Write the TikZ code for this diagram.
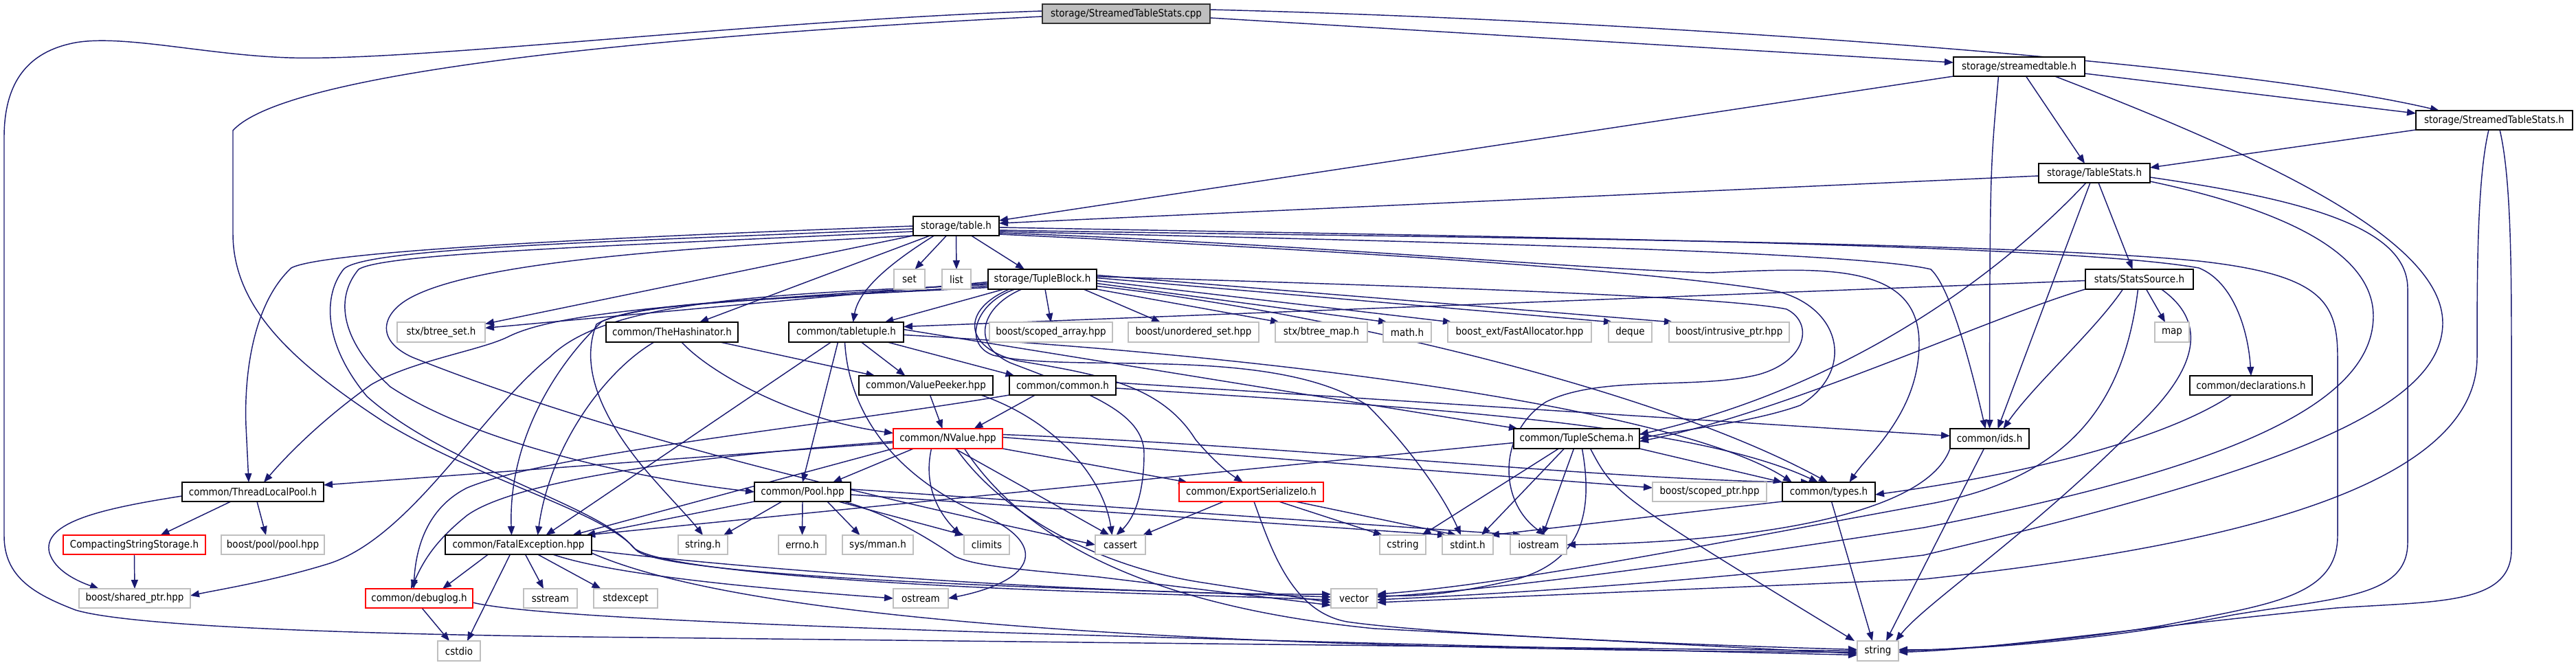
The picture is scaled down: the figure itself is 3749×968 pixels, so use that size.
\documentclass[tikz,border=0pt]{standalone}
\usepackage{fontspec}
\setmainfont{DejaVu Sans}[FakeStretch=0.9]
\usetikzlibrary{arrows.meta,backgrounds}
\definecolor{edgeblue}{RGB}{25,25,112}
\definecolor{extgray}{RGB}{191,191,191}
\definecolor{rootgray}{RGB}{191,191,191}
\newcommand\gn[7]{\node[#1,minimum width={(#4-#3)*0.5pt},minimum height={(#6-#5)*0.5pt}] (#2) at ({(#3+#4)/2},{(#5+#6)/2}) {#7};}
\begin{document}
\begin{tikzpicture}[x=0.5pt,y=-0.5pt,
  gnbase/.style={draw,rectangle,inner sep=0pt,outer sep=0pt,line width=0.8pt,fill=white,font=\fontsize{7.5}{9}\selectfont},
  gndoc/.style={gnbase,draw=black},
  gnext/.style={gnbase,draw=extgray},
  gntrunc/.style={gnbase,draw=red},
  gnroot/.style={gnbase,draw=black!80,fill=rootgray},
  edg/.style={draw=edgeblue,line width=0.72pt,-{Triangle[length=6.5pt,width=5pt]}}]
\useasboundingbox (0,0) rectangle (3749,968);
\gn{gnroot}{cpp}{1517}{1761}{6}{34}{storage/StreamedTableStats.cpp}
\gn{gndoc}{stab}{2843}{3034}{83}{111}{storage/streamedtable.h}
\gn{gndoc}{sts}{3516}{3744}{161}{189}{storage/StreamedTableStats.h}
\gn{gndoc}{ts}{2967}{3129}{238}{266}{storage/TableStats.h}
\gn{gndoc}{table}{1329}{1454}{315}{343}{storage/table.h}
\gn{gndoc}{ss}{3035}{3192}{392}{421}{stats/StatsSource.h}
\gn{gnext}{set}{1301}{1346}{392}{421}{set}
\gn{gnext}{list}{1371}{1413}{392}{421}{list}
\gn{gndoc}{tb}{1438}{1596}{392}{421}{storage/TupleBlock.h}
\gn{gnext}{bset}{578}{706}{469}{498}{stx/btree\_set.h}
\gn{gndoc}{hash}{882}{1074}{469}{498}{common/TheHashinator.h}
\gn{gndoc}{tt}{1148}{1315}{469}{498}{common/tabletuple.h}
\gn{gnext}{sca}{1440}{1619}{469}{498}{boost/scoped\_array.hpp}
\gn{gnext}{uset}{1642}{1832}{469}{498}{boost/unordered\_set.hpp}
\gn{gnext}{bmap}{1856}{1990}{469}{498}{stx/btree\_map.h}
\gn{gnext}{mathh}{2013}{2083}{469}{498}{math.h}
\gn{gnext}{fa}{2107}{2316}{469}{498}{boost\_ext/FastAllocator.hpp}
\gn{gnext}{deque}{2341}{2404}{469}{498}{deque}
\gn{gnext}{iptr}{2429}{2604}{469}{498}{boost/intrusive\_ptr.hpp}
\gn{gnext}{mapn}{3136}{3186}{469}{498}{map}
\gn{gndoc}{vp}{1250}{1445}{547}{575}{common/ValuePeeker.hpp}
\gn{gndoc}{comm}{1469}{1624}{547}{575}{common/common.h}
\gn{gndoc}{decl}{3187}{3365}{547}{575}{common/declarations.h}
\gn{gntrunc}{nv}{1300}{1459}{624}{653}{common/NValue.hpp}
\gn{gndoc}{tsch}{2203}{2386}{624}{653}{common/TupleSchema.h}
\gn{gndoc}{ids}{2838}{2953}{624}{653}{common/ids.h}
\gn{gndoc}{tlp}{265}{471}{702}{730}{common/ThreadLocalPool.h}
\gn{gndoc}{pool}{1098}{1238}{702}{730}{common/Pool.hpp}
\gn{gntrunc}{esio}{1716}{1926}{702}{730}{common/ExportSerializeIo.h}
\gn{gnext}{sptr}{2405}{2571}{702}{730}{boost/scoped\_ptr.hpp}
\gn{gndoc}{types}{2594}{2729}{702}{730}{common/types.h}
\gn{gntrunc}{css}{92}{299}{779}{807}{CompactingStringStorage.h}
\gn{gnext}{bpool}{322}{472}{779}{807}{boost/pool/pool.hpp}
\gn{gndoc}{fe}{648}{861}{779}{807}{common/FatalException.hpp}
\gn{gnext}{strh}{987}{1059}{779}{807}{string.h}
\gn{gnext}{errno}{1133}{1202}{779}{807}{errno.h}
\gn{gnext}{mman}{1226}{1329}{779}{807}{sys/mman.h}
\gn{gnext}{climits}{1403}{1469}{779}{807}{climits}
\gn{gnext}{cassert}{1594}{1667}{779}{807}{cassert}
\gn{gnext}{cstring}{2008}{2075}{779}{807}{cstring}
\gn{gnext}{stdint}{2099}{2173}{779}{807}{stdint.h}
\gn{gnext}{iostream}{2198}{2280}{779}{807}{iostream}
\gn{gnext}{shptr}{115}{277}{857}{885}{boost/shared\_ptr.hpp}
\gn{gntrunc}{dbg}{532}{688}{857}{885}{common/debuglog.h}
\gn{gnext}{sstream}{762}{840}{857}{885}{sstream}
\gn{gnext}{stdexcept}{864}{957}{857}{885}{stdexcept}
\gn{gnext}{ostream}{1300}{1380}{857}{885}{ostream}
\gn{gnext}{vector}{1937}{2004}{857}{885}{vector}
\gn{gnext}{cstdio}{637}{699}{933}{962}{cstdio}
\gn{gnext}{string}{2703}{2763}{933}{962}{string}
\begin{pgfonlayer}{background}
% cpp
\draw[edg] ([yshift=-3pt]cpp.east) -- ([yshift=3pt]stab.west);
\draw[edg] ([yshift=3pt]cpp.east) .. controls (2400,30) and (3250,90) .. ([xshift=-40pt]sts.north);
\draw[edg] ([yshift=2pt]cpp.west) .. controls (1100,30) and (600,90) .. (420,84) .. controls (300,80) and (180,50) .. (110,62) .. controls (40,75) and (6,120) .. (6,200) -- (6,780) .. controls (6,840) and (50,865) .. (110,888) .. controls (200,915) and (600,925) .. (940,928) -- (string.west);
\draw[edg] ([yshift=-2pt]cpp.west) .. controls (1000,50) and (420,100) .. (339,190) -- (339,340) .. controls (339,450) and (430,530) .. (560,615) .. controls (700,700) and (880,745) .. (925,800) .. controls (950,830) and (1300,848) .. (1600,858) -- ([yshift=1pt]vector.west);
% streamedtable.h
\draw[edg] (stab.south west) -- ([yshift=-3pt]table.north east);
\draw[edg] ([yshift=-5pt]stab.east) -- ([yshift=5pt]sts.west);
\draw[edg] ([xshift=5pt]stab.south) -- ([xshift=-7pt]ts.north);
\draw[edg] ([xshift=-15pt]stab.south) .. controls (2896,250) .. (ids.north);
\draw[edg] ([xshift=26pt]stab.south) .. controls (3300,230) and (3555,350) .. (3555,470) .. controls (3555,600) and (3300,690) .. (2800,808) .. controls (2450,850) and (2150,866) .. ([yshift=-1pt]vector.east);
% StreamedTableStats.h
\draw[edg] (sts.south west) -- ([yshift=-3pt]ts.north east);
\draw[edg] ([xshift=-4pt]sts.south) .. controls (3605,260) and (3605,400) .. (3605,520) .. controls (3605,720) and (3200,800) .. (2800,843) -- ([yshift=-3pt]vector.east);
\draw[edg] ([xshift=4pt]sts.south) .. controls (3655,260) and (3655,400) .. (3655,520) -- (3655,800) .. controls (3655,880) and (3550,875) .. (3400,885) .. controls (3100,915) and (2900,945) .. ([yshift=-1pt]string.east);
% TableStats.h
\draw[edg] ([yshift=-2pt]ts.west) -- ([yshift=2pt]table.east);
\draw[edg] ([xshift=3pt]ts.south) -- ([xshift=-5pt]ss.north);
\draw[edg] ([xshift=-6pt]ts.south) .. controls (2920,390) and (2700,560) .. ([yshift=3pt]tsch.east);
\draw[edg] ([xshift=-3pt]ts.south) -- ([xshift=6pt]ids.north);
\draw[edg] ([yshift=1pt]ts.south east) .. controls (3300,300) and (3454,360) .. (3454,460) .. controls (3454,600) and (3200,690) .. (2800,768) .. controls (2400,830) and (2150,860) .. ([yshift=1pt]vector.east);
\draw[edg] ([yshift=-3pt]ts.east) .. controls (3350,290) and (3504,330) .. (3504,420) -- (3504,790) .. controls (3504,870) and (3400,870) .. (3250,895) .. controls (3050,935) and (2850,947) .. ([yshift=1pt]string.east);
% StatsSource.h
\draw[edg] ([xshift=5pt]ss.south) -- ([xshift=-5pt]mapn.north);
\draw[edg] ([xshift=-12pt]ss.south) .. controls (3050,480) and (2960,560) .. ([xshift=10pt]ids.north);
\draw[edg] ([xshift=-1pt]ss.south) .. controls (3090,600) and (3000,700) .. (2800,735) .. controls (2500,790) and (2200,850) .. ([yshift=3pt]vector.east);
\draw[edg] ([xshift=16pt]ss.south) .. controls (3215,470) and (3200,540) .. (3100,630) .. controls (2950,780) and (2800,880) .. ([xshift=-2pt]string.north east);
\draw[edg] ([yshift=-1pt]ss.west) -- ([yshift=4pt]tt.east);
\draw[edg] (ss.south west) .. controls (2900,460) and (2600,600) .. ([yshift=-2pt]tsch.east);
% table.h
\draw[edg] ([xshift=-7pt]table.south) -- ([xshift=4pt]set.north);
\draw[edg] (table.south) -- (list.north);
\draw[edg] ([xshift=11pt]table.south) -- ([xshift=-13pt]tb.north);
\draw[edg] ([xshift=-19pt]table.south) -- ([xshift=20pt]hash.north);
\draw[edg] ([xshift=-16pt]table.south) .. controls (1300,380) and (1250,420) .. ([xshift=5pt]tt.north);
\draw[edg] (table.south west) -- ([yshift=6pt]bset.east);
\draw[edg] (table.west) .. controls (900,345) and (470,365) .. (424,390) .. controls (370,440) and (355,540) .. (358,620) -- ([xshift=-3pt]tlp.north);
\draw[edg] ([yshift=-2pt]table.west) .. controls (900,352) and (530,360) .. (500,392) .. controls (470,430) and (470,500) .. (534,577) .. controls (650,680) and (870,735) .. (920,795) .. controls (945,830) and (1300,852) .. (1600,862) -- ([yshift=-1pt]vector.west);
\draw[edg] ([yshift=-4pt]table.west) .. controls (900,358) and (560,368) .. (522,392) .. controls (490,430) and (490,490) .. (568,563) .. controls (700,650) and (950,700) .. (pool.west);
\draw[edg] (table.south west) .. controls (1000,360) and (700,380) .. (600,432) .. controls (555,455) and (545,495) .. (600,520) .. controls (900,640) and (1300,730) .. (cassert.west);
\draw[edg] ([yshift=-1pt]table.east) .. controls (2200,345) and (3000,355) .. (3200,390) .. controls (3250,410) and (3272,480) .. (decl.north);
\draw[edg] ([yshift=-3pt]table.east) .. controls (2000,345) and (2900,350) .. (3200,380) .. controls (3380,400) and (3402,440) .. (3402,520) -- (3402,780) .. controls (3402,870) and (3300,880) .. (3150,910) .. controls (3000,935) and (2850,945) .. (string.east);
\draw[edg] ([yshift=-4pt]table.east) .. controls (2000,350) and (2700,365) .. (2810,392) .. controls (2840,420) and (2870,540) .. ([xshift=-3pt]ids.north);
\draw[edg] ([yshift=-5pt]table.east) .. controls (1900,355) and (2300,392) .. (2490,397) .. controls (2650,390) and (2793,380) .. (2793,500) .. controls (2793,600) and (2720,660) .. ([xshift=15pt]types.north);
\draw[edg] ([yshift=-6pt]table.east) .. controls (1900,362) and (2400,392) .. (2590,425) .. controls (2680,450) and (2700,540) .. (2620,590) .. controls (2550,615) and (2450,625) .. (tsch.east);
% TupleBlock.h
\draw[edg] ([xshift=-28pt]tb.south) -- ([xshift=28pt]tt.north);
\draw[edg] ([xshift=2pt]tb.south) -- (sca.north);
\draw[edg] ([xshift=30pt]tb.south) -- ([xshift=-24pt]uset.north);
\draw[edg] (tb.south east) -- ([xshift=3pt]bmap.north west);
\draw[edg] ([yshift=-3pt]tb.east) -- ([xshift=3pt]mathh.north west);
\draw[edg] ([yshift=-1pt]tb.east) -- ([xshift=3pt]fa.north west);
\draw[edg] ([yshift=1pt]tb.east) -- ([xshift=3pt]deque.north west);
\draw[edg] ([yshift=3pt]tb.east) -- ([xshift=3pt]iptr.north west);
\draw[edg] ([yshift=-2pt]tb.west) -- ([yshift=3pt]bset.east);
\draw[edg] ([yshift=-3pt]tb.west) .. controls (1050,440) and (820,450) .. (740,490) .. controls (700,510) and (600,525) .. (540,560) .. controls (470,610) and (420,660) .. ([xshift=8pt]tlp.north);
\draw[edg] ([yshift=-4pt]tb.west) .. controls (1100,428) and (880,440) .. (800,520) .. controls (700,600) and (600,780) .. (480,820) .. controls (400,845) and (320,858) .. ([yshift=2pt]shptr.east);
\draw[edg] ([yshift=-5pt]tb.west) .. controls (1100,438) and (940,440) .. (876,468) .. controls (800,540) and (740,650) .. ([xshift=-5pt]fe.north);
\draw[edg] ([yshift=-6pt]tb.west) .. controls (1100,436) and (920,440) .. (868,472) .. controls (845,530) and (870,600) .. (936,680) .. controls (970,720) and (1000,750) .. (strh.north);
\draw[edg] ([xshift=-20pt]tb.south) .. controls (1420,440) and (1400,500) .. (1445,517) .. controls (1560,545) and (1850,500) .. (1990,590) .. controls (2050,650) and (2100,720) .. ([xshift=-5pt]stdint.north);
\draw[edg] ([xshift=-15pt]tb.south) .. controls (1430,445) and (1410,500) .. (1470,528) .. controls (1580,570) and (1665,600) .. (1665,660) .. controls (1665,720) and (1650,755) .. ([xshift=-3pt]cassert.north);
\draw[edg] ([xshift=-24pt]tb.south) .. controls (1400,450) and (1400,505) .. (1480,525) .. controls (1600,545) and (1690,560) .. (1740,640) .. controls (1770,675) and (1790,690) .. ([xshift=-6pt]esio.north);
\draw[edg] ([yshift=-5pt]tb.east) .. controls (1900,450) and (2400,560) .. ([xshift=33pt]types.north west);
\draw[edg] ([yshift=2pt]tb.east) .. controls (2000,415) and (2500,430) .. (2600,450) .. controls (2640,470) and (2630,525) .. (2560,545) .. controls (2470,568) and (2330,545) .. (2250,585) .. controls (2180,630) and (2180,730) .. ([xshift=5pt]iostream.north);
% TheHashinator.h
\draw[edg] ([xshift=35pt]hash.south) -- ([xshift=-37pt]vp.north);
\draw[edg] ([xshift=7pt]hash.south) .. controls (1030,540) and (1150,610) .. ([yshift=4pt]nv.west);
\draw[edg] ([xshift=-13pt]hash.south) .. controls (880,540) and (800,650) .. ([xshift=14pt]fe.north);
% tabletuple.h
\draw[edg] ([xshift=-6pt]tt.south) -- (pool.north);
\draw[edg] ([xshift=-11pt]tt.south) -- ([xshift=20pt]fe.north);
\draw[edg] ([xshift=-1pt]tt.south) .. controls (1235,600) and (1300,690) .. (1420,745) .. controls (1530,790) and (1510,845) .. (ostream.east);
\draw[edg] ([xshift=11pt]tt.south) -- ([xshift=-15pt]vp.north);
\draw[edg] ([xshift=30pt]tt.south) -- ([xshift=-35pt]comm.north);
\draw[edg] ([yshift=2pt]tt.east) -- ([xshift=3pt]tsch.north west);
\draw[edg] ([yshift=-2pt]tt.east) .. controls (1900,520) and (2450,600) .. ([xshift=7pt]types.north west);
% ValuePeeker.hpp
\draw[edg] ([xshift=3pt]vp.south) -- ([xshift=-4pt]nv.north);
\draw[edg] ([xshift=40pt]vp.south) .. controls (1530,610) and (1605,690) .. ([xshift=-6pt]cassert.north);
% common.h
\draw[edg] ([xshift=-20pt]comm.south) -- ([xshift=19pt]nv.north);
\draw[edg] (comm.south west) .. controls (1200,620) and (800,660) .. (680,710) .. controls (620,740) and (605,800) .. ([xshift=-4pt]dbg.north);
\draw[edg] ([yshift=2pt]comm.east) -- ([yshift=2pt]ids.west);
\draw[edg] ([yshift=-2pt]comm.east) .. controls (2000,590) and (2450,610) .. ([xshift=26pt]types.north west);
% NValue.hpp
\draw[edg] ([xshift=-25pt]nv.south) -- ([xshift=22pt]pool.north);
\draw[edg] ([yshift=-3pt]nv.west) -- ([yshift=5pt]tlp.east);
\draw[edg] (nv.south west) -- ([xshift=-14pt]fe.north east);
\draw[edg] (nv.south east) -- ([xshift=6pt]esio.north west);
\draw[edg] ([yshift=3pt]nv.east) .. controls (1900,650) and (2350,700) .. ([xshift=20pt]types.north west);
\draw[edg] ([yshift=1pt]nv.east) -- ([yshift=3pt]sptr.west);
\draw[edg] ([xshift=-12pt]nv.south) .. controls (1345,700) and (1360,740) .. ([xshift=-19pt]climits.north);
\draw[edg] ([xshift=5pt]nv.south) -- ([xshift=-8pt]cassert.north);
\draw[edg] ([xshift=6pt]nv.south) .. controls (1460,750) and (1600,825) .. (1750,848) -- ([yshift=-3pt]vector.west);
\draw[edg] ([xshift=12pt]nv.south) .. controls (1500,800) and (1700,885) .. (2000,915) -- ([yshift=-2pt]string.west);
\draw[edg] ([yshift=-2pt]nv.west) .. controls (1000,665) and (750,700) .. (680,750) .. controls (630,790) and (615,820) .. ([xshift=-6pt]dbg.north);
% Pool.hpp
\draw[edg] ([xshift=-15pt]pool.south) -- ([xshift=15pt]strh.north);
\draw[edg] (pool.south) -- (errno.north);
\draw[edg] ([xshift=18pt]pool.south) -- ([xshift=-13pt]mman.north);
\draw[edg] ([xshift=26pt]pool.south) -- (climits.north west);
\draw[edg] (pool.south west) -- ([xshift=-4pt]fe.north east);
\draw[edg] ([yshift=2pt]pool.east) -- ([xshift=-12pt]iostream.north);
\draw[edg] ([yshift=-2pt]pool.east) -- ([xshift=3pt]stdint.north west);
\draw[edg] ([xshift=30pt]pool.south) .. controls (1300,750) and (1360,790) .. (1390,810) .. controls (1420,825) and (1500,830) .. (1600,840) -- ([yshift=-5pt]vector.west);
% ExportSerializeIo.h
\draw[edg] ([xshift=-20pt]esio.south) -- ([xshift=-2pt]cassert.north east);
\draw[edg] ([xshift=20pt]esio.south) -- ([xshift=2pt]cstring.north west);
\draw[edg] ([xshift=32pt]esio.south) -- ([xshift=-8pt]stdint.north);
\draw[edg] ([xshift=2pt]esio.south) .. controls (1850,800) and (1880,890) .. (1960,905) .. controls (2100,925) and (2500,940) .. ([yshift=1pt]string.west);
% TupleSchema.h
\draw[edg] (tsch.south east) -- (types.north west);
\draw[edg] ([xshift=-13pt]tsch.south) -- ([xshift=14pt]cstring.north);
\draw[edg] ([xshift=-9pt]tsch.south) -- ([xshift=10pt]stdint.north);
\draw[edg] ([xshift=-2pt]tsch.south) -- ([xshift=3pt]iostream.north);
\draw[edg] ([xshift=4pt]tsch.south) .. controls (2320,750) and (2300,820) .. (2200,845) .. controls (2100,868) and (2050,868) .. ([yshift=2pt]vector.east);
\draw[edg] ([xshift=10pt]tsch.south) .. controls (2350,720) .. ([xshift=-2pt]string.north west);
\draw[edg] ([yshift=-3pt]tsch.west) -- ([xshift=-4pt]fe.north east);
% types.h
\draw[edg] (types.south west) -- ([xshift=-2pt]stdint.north east);
\draw[edg] ([xshift=2pt]types.south) -- ([xshift=-4pt]string.north);
% ids.h
\draw[edg] (ids.south west) .. controls (2800,760) and (2500,790) .. (iostream.east);
\draw[edg] ([xshift=-4pt]ids.south) -- ([xshift=6pt]string.north);
% FatalException.hpp
\draw[edg] ([xshift=-22pt]fe.south) -- ([xshift=17pt]dbg.north);
\draw[edg] ([xshift=-6pt]fe.south) -- ([xshift=6pt]cstdio.north);
\draw[edg] ([xshift=5pt]fe.south) -- ([xshift=-5pt]sstream.north);
\draw[edg] ([xshift=14pt]fe.south) -- ([xshift=-18pt]stdexcept.north);
\draw[edg] ([xshift=25pt]fe.south) .. controls (900,840) and (1150,860) .. (ostream.west);
\draw[edg] ([yshift=-4pt]fe.east) .. controls (1100,830) and (1600,866) .. ([yshift=3pt]vector.west);
\draw[edg] ([yshift=-6pt]fe.east) .. controls (1100,910) and (1800,945) .. ([yshift=-1pt]string.west);
% debuglog.h
\draw[edg] ([xshift=2pt]dbg.south) -- ([xshift=-7pt]cstdio.north);
\draw[edg] ([yshift=-3pt]dbg.east) .. controls (800,905) and (1500,925) .. ([yshift=-3pt]string.west);
% ThreadLocalPool.h
\draw[edg] ([xshift=-16pt]tlp.south) -- ([xshift=19pt]css.north);
\draw[edg] ([xshift=3pt]tlp.south) -- ([xshift=-5pt]bpool.north);
\draw[edg] ([yshift=-3pt]tlp.west) .. controls (150,740) and (60,760) .. (72,805) .. controls (80,830) and (110,845) .. ([xshift=-26pt]shptr.north);
% CompactingStringStorage.h
\draw[edg] (css.south) -- (shptr.north);
% declarations.h
\draw[edg] ([xshift=-14pt]decl.south) .. controls (3150,640) and (2950,690) .. ([yshift=-2pt]types.east);
\end{pgfonlayer}
\end{tikzpicture}
\end{document}
